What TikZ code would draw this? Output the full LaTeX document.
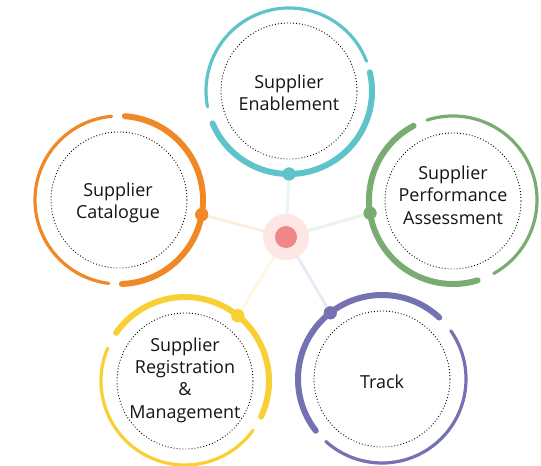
\documentclass[tikz,border=0pt]{standalone}
\usepackage{fontspec}
\setmainfont{Open Sans}
\usetikzlibrary{calc}
\definecolor{cteal}{RGB}{94,196,202}
\definecolor{corange}{RGB}{240,136,38}
\definecolor{cgreen}{RGB}{121,172,112}
\definecolor{cyellow}{RGB}{249,208,52}
\definecolor{cpurple}{RGB}{117,114,180}
\definecolor{chubout}{RGB}{253,230,228}
\definecolor{chubin}{RGB}{241,134,134}
\definecolor{ctext}{RGB}{20,20,20}
\tikzset{
  inner/.style={circle,draw=black,line width=0.9bp,dash pattern=on 0.9bp off 2.1bp,minimum size=136bp,inner sep=0pt},
  label text/.style={align=center,text=ctext,inner sep=0pt,font=\fontsize{18}{22.5}\selectfont},
  thickarc/.style={line width=6bp,line cap=round},
  thinarc/.style={line width=3.2bp,line cap=round},
  dotnode/.style={circle,inner sep=0pt,minimum size=13bp},
  link/.style={line width=3bp}
}
\begin{document}
\begin{tikzpicture}[x=1bp,y=1bp]
\useasboundingbox (0,0) rectangle (541,-466);
% centres
\coordinate (cE) at (289,-91);
\coordinate (cC) at (119,-200);
\coordinate (cP) at (453,-200);
\coordinate (cR) at (185,-381);
\coordinate (cT) at (382,-379);
% dots
\node[dotnode,fill=cteal] (dE) at ($(cE)+(-90:83)$) {};
\node[dotnode,fill=corange] (dC) at ($(cC)+(-10:84)$) {};
\node[dotnode,fill=cgreen] (dP) at ($(cP)+(189:84)$) {};
\node[dotnode,fill=cyellow] (dR) at ($(cR)+(51:84)$) {};
\node[dotnode,fill=cpurple] (dT) at ($(cT)+(128:84)$) {};
% hub
\coordinate (hub) at (286,-237);
\draw[link,cteal!15] (hub) -- (dE);
\draw[link,corange!15] (hub) -- (dC);
\draw[link,cgreen!15] (hub) -- (dP);
\draw[link,cyellow!15] (hub) -- (dR);
\draw[link,cpurple!15] (hub) -- (dT);
\node[circle,fill=chubout,minimum size=46bp,inner sep=0pt] (hubo) at (hub) {};
\node[circle,fill=chubin,minimum size=22bp,inner sep=0pt] (hubi) at (hub) {};
% arcs
\draw[thickarc,cteal] (cE) ++(-157:83) arc[start angle=-157,end angle=13,radius=83];
\draw[thinarc,cteal] (cE) ++(21:83) arc[start angle=21,end angle=191,radius=83];
\draw[thickarc,corange] (cC) ++(-88:84) arc[start angle=-88,end angle=86,radius=84];
\draw[thinarc,corange] (cC) ++(95:84) arc[start angle=95,end angle=263,radius=84];
\draw[thinarc,cgreen] (cP) ++(-61:84) arc[start angle=-61,end angle=108,radius=84];
\draw[thickarc,cgreen] (cP) ++(118:84) arc[start angle=118,end angle=287,radius=84];
\draw[thickarc,cyellow] (cR) ++(-25:84) arc[start angle=-25,end angle=145,radius=84];
\draw[thinarc,cyellow] (cR) ++(157:84) arc[start angle=157,end angle=324,radius=84];
\draw[thickarc,cpurple] (cT) ++(47:84) arc[start angle=47,end angle=218,radius=84];
\draw[thinarc,cpurple] (cT) ++(228:84) arc[start angle=228,end angle=395,radius=84];
% redraw dots on top
\fill[cteal] (dE) circle[radius=6.5];
\fill[corange] (dC) circle[radius=6.5];
\fill[cgreen] (dP) circle[radius=6.5];
\fill[cyellow] (dR) circle[radius=6.5];
\fill[cpurple] (dT) circle[radius=6.5];
% inner dotted circles
\node[inner] (nE) at (cE) {};
\node[inner] (nC) at (cC) {};
\node[inner] (nP) at ($(cP)+(0,-1)$) {};
\node[inner] (nR) at (cR) {};
\node[inner] (nT) at (cT) {};
% texts
\node[label text] (tE) at ($(cE)+(0,-2)$) {Supplier\\Enablement};
\node[label text] (tC) at ($(cC)+(-1,-3)$) {Supplier\\Catalogue};
\node[label text] (tP) at ($(cP)+(0,5)$) {Supplier\\Performance\\Assessment};
\node[label text] (tR) at ($(cR)+(0,1)$) {Supplier\\Registration\\\&\\Management};
\node[label text] (tT) at ($(cT)+(0,-3)$) {Track};
\end{tikzpicture}
\end{document}
